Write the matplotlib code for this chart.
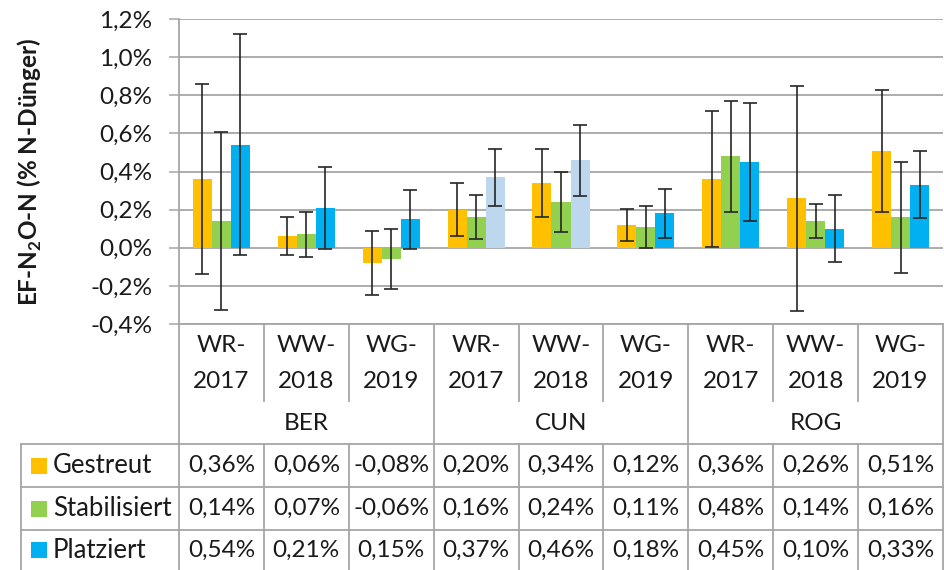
import matplotlib
matplotlib.use('Agg')
import matplotlib.pyplot as plt
from matplotlib.lines import Line2D
from matplotlib.patches import Rectangle
from matplotlib.transforms import blended_transform_factory
from matplotlib.ticker import FuncFormatter, MultipleLocator
import numpy as np

# data (EF in % of fertiliser N)
categories = ["WR-\n2017", "WW-\n2018", "WG-\n2019"] * 3
sites = ["BER", "CUN", "ROG"]
series = ["Gestreut", "Stabilisiert", "Platziert"]
gestreut = [0.36, 0.06, -0.08, 0.20, 0.34, 0.12, 0.36, 0.26, 0.51]
stabilisiert = [0.14, 0.07, -0.06, 0.16, 0.24, 0.11, 0.48, 0.14, 0.16]
platziert = [0.54, 0.21, 0.15, 0.37, 0.46, 0.18, 0.45, 0.10, 0.33]
err_gestreut = [0.50, 0.10, 0.17, 0.14, 0.18, 0.085, 0.355, 0.59, 0.32]
err_stabilisiert = [0.465, 0.12, 0.157, 0.115, 0.155, 0.11, 0.29, 0.088, 0.29]
err_platziert = [0.58, 0.215, 0.155, 0.15, 0.186, 0.13, 0.31, 0.175, 0.175]

colors = ['#FFC000', '#92D050', '#00B0F0']
# two Platziert bars at CUN are drawn light blue in the original
platz_colors = ['#00B0F0', '#00B0F0', '#00B0F0', '#BDD7EE', '#BDD7EE',
                '#00B0F0', '#00B0F0', '#00B0F0', '#00B0F0']

plt.rcParams['font.family'] = 'Lato'
plt.rcParams['mathtext.fontset'] = 'custom'
plt.rcParams['mathtext.rm'] = 'Lato'
plt.rcParams['mathtext.bf'] = 'Lato:bold'

W, H = 944, 570
FS = 17.5
TXT = '#1a1a1a'
LINE = '#A6A6A6'


def fy(py):
    return 1 - py / H


fig = plt.figure(figsize=(W / 100, H / 100), dpi=100)
ax = fig.add_axes([179 / W, fy(324), (943 - 179) / W, (324 - 19) / H])

x = np.arange(len(categories))
bw = 0.224
ekw = dict(ecolor='#262626', elinewidth=1.2, capthick=1.2)
ax.bar(x - bw, gestreut, bw, color=colors[0], yerr=err_gestreut,
       capsize=5, error_kw=ekw, zorder=2)
ax.bar(x, stabilisiert, bw, color=colors[1], yerr=err_stabilisiert,
       capsize=5, error_kw=ekw, zorder=2)
ax.bar(x + bw, platziert, bw, color=platz_colors, yerr=err_platziert,
       capsize=5, error_kw=ekw, zorder=2)

ax.set_xlim(-0.5, len(categories) - 0.5)
ax.set_ylim(-0.4, 1.2)
ax.yaxis.set_major_locator(MultipleLocator(0.2))
ax.yaxis.set_major_formatter(FuncFormatter(
    lambda v, p: f'{v:.1f}%'.replace('.', ',').replace('-0,0', '0,0')))
ax.grid(axis='y', color=LINE, lw=1.3, zorder=0)
ax.set_axisbelow(True)
ax.set_xticks([])
ax.tick_params(axis='y', length=7, width=1.1, color=LINE, pad=12,
               labelsize=FS, labelcolor=TXT)
for s in ['top', 'right']:
    ax.spines[s].set_visible(False)
for s in ['left', 'bottom']:
    ax.spines[s].set_color(LINE)
    ax.spines[s].set_linewidth(1.3)

fig.text(30 / W, fy(172), r'EF-N$_\mathbf{2}$O-N (% N-Dünger)', rotation=90,
         ha='center', va='center', fontsize=FS, fontweight='bold', color=TXT)

# data table below the axis
tr = blended_transform_factory(ax.transData, fig.transFigure)
rows = [444, 487, 530, 570]


def vline(xd, y0, y1):
    ax.add_line(Line2D([xd, xd], [fy(y0), fy(y1)], transform=tr,
                       color=LINE, lw=1.3, clip_on=False))


for b in range(len(categories) + 1):
    xd = b - 0.5
    if b % 3 == 0:
        vline(xd, 324, 570)
    else:
        vline(xd, 324, 401)
        vline(xd, 444, 570)

for py in rows[:3]:
    fig.add_artist(Line2D([21 / W, 943 / W], [fy(py), fy(py)],
                          color=LINE, lw=1.3))
fig.add_artist(Line2D([21 / W, 21 / W], [fy(444), fy(570)], color=LINE, lw=1.3))

for i, c in enumerate(categories):
    top, bottom = c.split('\n')
    ax.text(i, fy(346), top, transform=tr, ha='center', va='center',
            fontsize=FS, color=TXT)
    ax.text(i, fy(381), bottom, transform=tr, ha='center', va='center',
            fontsize=FS, color=TXT)

for g, site in enumerate(sites):
    ax.text(g * 3 + 1, fy(423), site, transform=tr, ha='center',
            va='center', fontsize=FS, color=TXT)

table_vals = [gestreut, stabilisiert, platziert]
for r, (name, vals) in enumerate(zip(series, table_vals)):
    yc = (rows[r] + rows[r + 1]) / 2
    fig.add_artist(Rectangle((31 / W, fy(yc + 8)), 16 / W, 16 / H,
                             color=colors[r], lw=0))
    fig.text(53 / W, fy(yc), name, ha='left', va='center',
             fontsize=18.5, color=TXT)
    for i, v in enumerate(vals):
        ax.text(i, fy(yc), f'{v:.2f}%'.replace('.', ','), transform=tr,
                ha='center', va='center', fontsize=FS, color=TXT)

fig.savefig('out.png', dpi=100)
